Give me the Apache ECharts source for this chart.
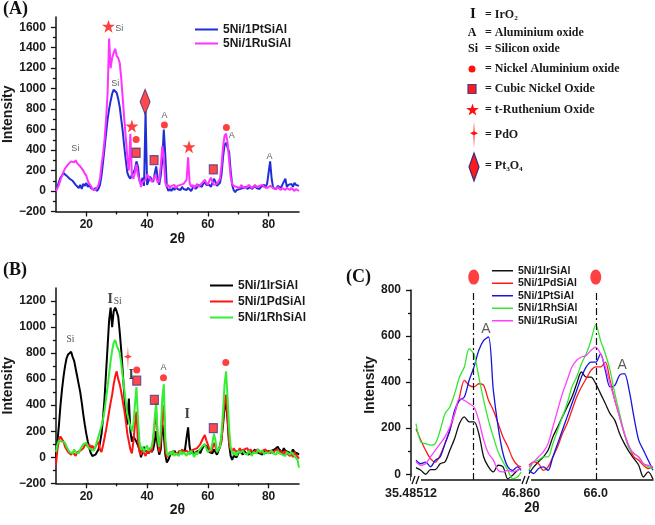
<!DOCTYPE html>
<html><head><meta charset="utf-8">
<script src="https://cdn.jsdelivr.net/npm/echarts@6/dist/echarts.min.js"></script>
<style>html,body{margin:0;padding:0;background:#fff}#c{width:655px;height:525px}</style>
</head><body><div id="c"></div>
<script>
// ---------- DATA ----------
const twoThetaAB = [10,10.5,11,11.5,12,12.5,13,13.5,14,14.5,15,15.5,16,16.5,17,17.5,18,18.5,19,19.5,
20,20.5,21,21.5,22,22.5,23,23.5,24,24.5,25,25.5,26,26.5,27,27.5,28,28.5,29,29.5,
30,30.5,31,31.5,32,32.5,33,33.5,34,34.5,35,35.5,36,36.5,37,37.5,38,38.5,39,39.5,
40,40.5,41,41.5,42,42.5,43,43.5,44,44.5,45,45.5,46,46.5,47,47.5,48,48.5,49,49.5,
50,50.5,51,51.5,52,52.5,53,53.5,54,54.5,55,55.5,56,56.5,57,57.5,58,58.5,59,59.5,
60,60.5,61,61.5,62,62.5,63,63.5,64,64.5,65,65.5,66,66.5,67,67.5,68,68.5,69,69.5,
70,70.5,71,71.5,72,72.5,73,73.5,74,74.5,75,75.5,76,76.5,77,77.5,78,78.5,79,79.5,
80,80.5,81,81.5,82,82.5,83,83.5,84,84.5,85,85.5,86,86.5,87,87.5,88,88.5,89,89.5,90];

// Panel A
const aPt = [0,40,90,130,150,175,165,150,160,120,130,100,90,60,50,30,60,20,70,50,
80,40,60,30,40,10,30,0,20,60,150,280,420,560,700,800,880,950,990,1000,
960,900,820,700,580,430,300,180,140,120,160,150,210,290,240,100,70,130,50,780,
60,100,140,110,90,170,240,120,60,150,300,600,350,40,0,20,0,30,10,40,
20,30,10,40,20,30,10,30,20,0,30,50,20,40,60,50,40,70,90,60,
50,60,40,80,120,90,50,60,80,160,330,450,470,460,380,200,60,10,-10,10,
0,20,10,30,20,40,20,30,40,20,30,50,30,40,20,40,30,60,40,70,
60,290,120,30,40,20,50,40,30,60,50,120,40,60,50,70,40,80,60,70,50];
const aRu = [0,30,60,110,150,190,220,230,260,270,290,300,280,300,270,280,240,230,200,170,
150,100,70,50,20,30,10,30,60,120,250,360,500,700,950,1490,1200,1300,1350,1390,
1320,1300,1250,1100,900,700,520,330,200,560,150,120,180,260,150,110,40,90,80,110,
160,140,120,90,110,150,130,80,100,250,440,320,80,40,60,30,50,40,60,30,
50,40,60,50,70,60,110,330,80,40,60,30,50,70,40,60,50,90,110,80,
60,100,130,90,60,50,70,80,120,250,430,540,560,470,300,140,70,50,60,40,
50,30,60,40,50,30,40,60,50,30,40,60,40,30,50,40,60,40,50,30,
40,50,40,30,40,20,40,30,10,30,20,10,30,20,10,30,20,0,20,10,0];

// Panel B
const bIr = [0,120,250,400,520,620,700,760,790,800,810,770,740,680,620,560,500,420,330,250,
180,120,70,30,10,0,20,10,60,110,180,300,450,650,850,1050,1150,1000,1120,1150,
1120,1080,960,820,650,480,330,250,450,200,120,160,170,120,130,60,0,40,80,50,
60,30,70,40,60,120,200,80,20,60,250,180,20,-40,-20,10,40,20,50,30,
40,20,50,30,40,60,150,230,80,30,50,20,40,30,50,30,60,80,100,90,
70,40,50,30,60,40,20,50,80,150,250,380,420,280,100,10,-20,10,20,0,
30,20,40,20,50,30,40,20,50,30,40,60,40,50,30,40,20,50,30,40,
50,30,50,40,60,70,80,60,50,40,70,50,60,40,50,30,60,40,50,30,20];
const bPd = [-60,60,130,160,150,120,80,60,40,50,20,40,30,10,40,30,50,40,70,90,
110,80,100,70,90,60,80,100,120,60,40,90,150,210,280,350,420,480,560,620,
660,600,560,500,430,360,280,180,120,60,30,120,250,350,120,40,20,60,30,10,
50,30,60,40,120,250,350,150,40,120,300,400,60,0,20,40,20,50,30,40,
20,50,30,60,40,30,50,40,30,50,40,60,50,70,80,100,110,150,170,130,
100,60,40,70,110,80,40,60,50,120,280,420,480,300,110,60,40,70,50,60,
40,70,50,40,60,50,70,40,60,50,30,50,40,60,50,30,50,40,60,40,
30,50,40,30,50,40,60,30,50,40,20,50,30,40,10,30,0,40,20,30,-10];
const bRh = [40,100,130,140,120,130,110,80,60,40,50,30,60,40,50,30,60,70,100,90,
110,80,90,60,70,50,80,120,160,200,240,290,360,450,540,640,740,820,880,900,
860,850,800,720,620,520,420,330,280,240,200,250,400,540,300,120,60,80,40,70,
90,50,60,80,150,300,420,150,80,200,450,560,150,30,10,40,20,50,10,30,
40,10,50,20,40,30,10,40,20,50,30,0,40,20,50,60,80,90,100,70,
40,30,60,110,180,130,40,30,80,180,350,560,660,450,220,80,40,20,40,10,
50,30,20,50,30,40,20,50,30,10,40,50,30,60,40,30,50,20,40,50,
30,20,50,30,40,20,50,30,40,20,30,10,40,30,20,40,30,10,20,-20,-80];

// Panel C (broken x axis: two windows)
const cLeftX = [36,36.5,37,37.5,38,38.5,39,39.5,40,40.5,41,41.5,42,42.5,43,43.5,44,44.5,45,45.5,46,46.5,46.86];
const cIrL = [29,17,0,20,20,46,54,104,155,220,249,227,227,176,75,32,10,39,32,-20,-4,17,25];
const cPdL = [198,148,104,68,53,82,133,191,263,335,408,386,379,393,386,321,278,220,162,119,68,39,32];
const cPtL = [61,46,53,32,61,75,133,191,278,321,335,408,466,538,581,596,364,205,90,32,17,32,17];
const cRhL = [220,140,133,126,133,191,263,292,350,422,466,545,520,422,321,234,162,97,54,17,-19,-12,10];
const cRuL = [54,39,46,75,104,133,162,205,263,328,321,307,292,234,148,90,61,17,10,17,10,17,25];
const cRightX = [59,59.5,60,60.5,61,61.5,62,62.5,63,63.5,64,64.5,65,65.5,66,66.5,67,67.5,68,68.5,69,69.5,70,70.5,71,71.5,72];
const cIrR = [3,32,54,75,104,162,205,249,292,335,393,444,422,422,393,350,307,263,234,176,133,97,68,39,-12,10,-22];
const cPdR = [39,54,46,17,32,75,119,176,220,278,335,379,415,451,466,466,487,408,321,249,176,119,75,61,39,25,32];
const cPtR = [17,3,25,32,17,75,133,191,249,307,364,422,466,487,487,523,451,379,386,430,437,364,249,148,104,61,17];
const cRhR = [17,54,61,75,75,133,191,249,307,379,422,480,523,581,650,581,523,451,350,263,176,111,90,75,46,32,25];
const cRuR = [32,54,75,97,133,205,278,350,408,466,495,509,516,538,552,523,466,393,321,249,176,119,90,75,46,39,32];

// Tick values / labels
const abXTicks = [20,40,60,80];
const abXMinor = [30,50,70];
const aYTicks = [-200,0,200,400,600,800,1000,1200,1400,1600];
const aYMinor = [-100,100,300,500,700,900,1100,1300,1500];
const bYTicks = [-200,0,200,400,600,800,1000,1200];
const bYMinor = [-100,100,300,500,700,900,1100];
const cYTicks = [0,200,400,600,800];
const cYMinor = [100,300,500,700];
const cLeftTicks = [35.48512,46.86];
const cLeftTickLabels = ['35.48512','46.860'];
const cRightTicks = [66];
const cRightTickLabels = ['66.0'];
const cPeakPositions = [41.97, 66.0];

// Phase annotations [2θ, intensity]
const aStars = [[27.3,1610],[35.0,634],[53.8,432]];
const aDots = [[36.4,504],[45.7,644],[66.1,621]];
const aCubes = [[36.4,374],[42.3,302],[61.8,212]];
const aDiamonds = [[39.35,871]];
const aTexts = [[30.8,1585,'Si'],[29.5,1055,'Si'],[16.4,416,'Si'],[45.7,735,'A'],[67.9,546,'A'],[80.3,341,'A']];
const bSiTexts = [[14.75,901,'Si'],[30.3,1195,'Si']];
const bATexts = [[45.4,690,'A']];
const bIrMarks = [[27.9,1210],[34.75,632],[53.2,330]];
const bPdO = [[33.7,760]];
const bDots = [[36.6,670],[45.4,611],[65.9,727]];
const bCubes = [[36.6,588],[42.4,440],[61.8,223]];
const cDotsL = [[41.97,856]];
const cDotsR = [[66.0,856]];
const cATextsL = [[43.24,628,'A']];
const cATextsR = [[68.78,475,'A']];

// ---------- CHART ----------
const SANS = 'Liberation Sans', SERIF = 'Liberation Serif';
const STAR_PTS = [[50,0],[61.8,35.3],[98.8,35.3],[68.8,57.1],[80.3,92.7],[50,70.9],[19.7,92.7],[31.2,57.1],[1.2,35.3],[38.2,35.3]];
const PDO_PTS = [[5,0],[5.7,11],[10,13],[5.7,15],[5,30],[4.3,15],[0,13],[4.3,11]];
const toPath = (pts) => 'path://M' + pts.map(p => p.join(',')).join('L') + 'Z';
const STAR = toPath(STAR_PTS);
const PDO = toPath(PDO_PTS);
const pairs = (xs, ys) => xs.map((x, i) => [x, ys[i]]);
const minus = v => String(v).replace('-', '\u2212');
const chart = echarts.init(document.getElementById('c'));
const C_MIN = -25;

const lab = {fontFamily: SANS, fontWeight: 'bold', fontSize: 12, color: '#1a1a1a'};
const axLine = {show: true, onZero: false, lineStyle: {color: '#111', width: 1.5}};
const tickStyle = {color: '#111', width: 1.3};
const nameStyle = {fontFamily: SANS, fontWeight: 'bold', fontSize: 14, color: '#1a1a1a'};

function majorX(grid, min, max, ticks, extra) {
  return Object.assign({gridIndex: grid, type: 'value', min, max, position: 'bottom',
    axisLine: axLine, splitLine: {show: false},
    axisTick: {show: true, customValues: ticks, length: 5, lineStyle: tickStyle},
    axisLabel: Object.assign({customValues: ticks, margin: 7}, lab)}, extra || {});
}
function minorX(grid, min, max, ticks) {
  return {gridIndex: grid, type: 'value', min, max, position: 'bottom',
    axisLine: {show: false, onZero: false}, splitLine: {show: false},
    axisTick: {show: true, customValues: ticks, length: 3, lineStyle: tickStyle},
    axisLabel: {show: false}};
}
function majorY(grid, min, max, ticks, extra) {
  return Object.assign({gridIndex: grid, type: 'value', min, max, position: 'left',
    axisLine: axLine, splitLine: {show: false},
    axisTick: {show: true, customValues: ticks, length: 5, lineStyle: tickStyle},
    axisLabel: Object.assign({customValues: ticks, margin: 10, formatter: minus}, lab)}, extra || {});
}
function minorY(grid, min, max, ticks) {
  return {gridIndex: grid, type: 'value', min, max, position: 'left',
    axisLine: {show: false, onZero: false}, splitLine: {show: false},
    axisTick: {show: true, customValues: ticks, length: 3, lineStyle: tickStyle},
    axisLabel: {show: false}};
}

function lineS(name, xi, yi, xs, ys, color, w) {
  return {type: 'line', name, xAxisIndex: xi, yAxisIndex: yi, data: pairs(xs, ys),
    symbol: 'none', showSymbol: false, lineStyle: {color, width: w}, itemStyle: {color},
    smooth: w < 2 ? 0.3 : false, z: 2};
}
function markS(xi, yi, data, symbol, size, color, border, extra) {
  return Object.assign({type: 'scatter', xAxisIndex: xi, yAxisIndex: yi, data, symbol, symbolSize: size,
    itemStyle: {color, borderColor: border || color, borderWidth: border ? 1.2 : 0},
    silent: true, clip: false, z: 5}, extra || {});
}
function textS(xi, yi, data, font, size, color, weight) {
  return {type: 'scatter', xAxisIndex: xi, yAxisIndex: yi, data, symbol: 'circle', symbolSize: 1,
    itemStyle: {color: 'rgba(0,0,0,0)'}, silent: true, clip: false, z: 6,
    label: {show: true, position: 'inside', formatter: p => p.data[2],
      fontFamily: font, fontSize: size, color, fontWeight: weight || 'normal'}};
}
const legendFmt = n => n.split(':')[1];
const titleStyle = {fontFamily: SERIF, fontWeight: 'bold', fontSize: 18, color: '#111'};

const option = {
  animation: false,
  backgroundColor: '#fff',
  title: [
    {text: '(A)', left: 3, top: 0, padding: 0, textStyle: titleStyle},
    {text: '(B)', left: 3, top: 261, padding: 0, textStyle: titleStyle},
    {text: '(C)', left: 346, top: 268, padding: 0, textStyle: titleStyle}
  ],
  legend: [
    {data: ['A:5Ni/1PtSiAl', 'A:5Ni/1RuSiAl'], formatter: legendFmt, orient: 'vertical', left: 195, top: 23,
      padding: 0, icon: 'rect', itemWidth: 23, itemHeight: 2, itemGap: 1, selectedMode: false,
      textStyle: {fontFamily: SANS, fontWeight: 'bold', fontSize: 12, color: '#1a1a1a', lineHeight: 13}},
    {data: ['B:5Ni/1IrSiAl', 'B:5Ni/1PdSiAl', 'B:5Ni/1RhSiAl'], formatter: legendFmt, orient: 'vertical', left: 210, top: 279,
      padding: 0, icon: 'rect', itemWidth: 23, itemHeight: 2, itemGap: 3, selectedMode: false,
      textStyle: {fontFamily: SANS, fontWeight: 'bold', fontSize: 12, color: '#1a1a1a', lineHeight: 13}},
    {data: ['C:5Ni/1IrSiAl', 'C:5Ni/1PdSiAl', 'C:5Ni/1PtSiAl', 'C:5Ni/1RhSiAl', 'C:5Ni/1RuSiAl'], formatter: legendFmt,
      orient: 'vertical', left: 492, top: 265, padding: 0, icon: 'rect', itemWidth: 21, itemHeight: 1.5, itemGap: 1, selectedMode: false,
      textStyle: {fontFamily: SANS, fontWeight: 'bold', fontSize: 10.5, color: '#1a1a1a', lineHeight: 11.5}}
  ],
  grid: [
    {left: 54, top: 17, width: 245, height: 194.5},
    {left: 54, top: 288, width: 245, height: 195.3},
    {left: 411, top: 290, width: 110, height: 190},
    {left: 529, top: 290, width: 124, height: 190}
  ],
  xAxis: [
    majorX(0, 10, 90, abXTicks, {name: '2\u03b8', nameLocation: 'middle', nameGap: 21, nameTextStyle: nameStyle}),
    minorX(0, 10, 90, abXMinor),
    majorX(1, 10, 90, abXTicks, {name: '2\u03b8', nameLocation: 'middle', nameGap: 19, nameTextStyle: nameStyle}),
    minorX(1, 10, 90, abXMinor),
    {gridIndex: 2, type: 'value', min: 35.48512, max: 46.86, position: 'bottom', axisLine: axLine, splitLine: {show: false},
      axisTick: {show: false},
      axisLabel: Object.assign({}, lab, {customValues: cLeftTicks, margin: 7, fontSize: 12.5,
        formatter: v => cLeftTickLabels[cLeftTicks.indexOf(v)] || ''})},
    {gridIndex: 3, type: 'value', min: 59, max: 72, position: 'bottom', axisLine: axLine, splitLine: {show: false},
      axisTick: {show: false},
      axisLabel: Object.assign({}, lab, {customValues: cRightTicks, margin: 7, fontSize: 12.5,
        formatter: v => cRightTickLabels[cRightTicks.indexOf(v)] || ''})}
  ],
  yAxis: [
    majorY(0, -200, 1700, aYTicks, {name: 'Intensity', nameLocation: 'middle', nameGap: 37, nameTextStyle: nameStyle}),
    minorY(0, -200, 1700, aYMinor),
    majorY(1, -200, 1300, bYTicks, {name: 'Intensity', nameLocation: 'middle', nameGap: 37, nameTextStyle: nameStyle}),
    minorY(1, -200, 1300, bYMinor),
    majorY(2, C_MIN, 800, cYTicks, {name: 'Intensity', nameLocation: 'middle', nameGap: 30, nameTextStyle: nameStyle}),
    minorY(2, C_MIN, 800, cYMinor),
    {gridIndex: 3, type: 'value', min: C_MIN, max: 800, show: false}
  ],
  series: [
    // A
    lineS('A:5Ni/1PtSiAl', 0, 0, twoThetaAB, aPt, '#1f2ed8', 2),
    lineS('A:5Ni/1RuSiAl', 0, 0, twoThetaAB, aRu, '#ff33ff', 2),
    markS(0, 0, aStars, STAR, 13, '#ff1010'),
    markS(0, 0, aDots, 'circle', 7, '#ff1010'),
    markS(0, 0, aCubes, 'rect', [8, 9], '#ff1a1a', '#4b3a8c'),
    markS(0, 0, aDiamonds, 'diamond', [10, 25], '#ff1a1a', '#3a2d80'),
    textS(0, 0, aTexts, SANS, 9, '#333'),
    // B
    lineS('B:5Ni/1IrSiAl', 2, 2, twoThetaAB, bIr, '#000000', 2),
    lineS('B:5Ni/1PdSiAl', 2, 2, twoThetaAB, bPd, '#ff1414', 2),
    lineS('B:5Ni/1RhSiAl', 2, 2, twoThetaAB, bRh, '#33ee33', 2),
    markS(2, 2, bPdO, PDO, [8, 24], '#ff1010'),
    markS(2, 2, bDots, 'circle', 7, '#ff1010'),
    markS(2, 2, bCubes, 'rect', [8, 9], '#ff1a1a', '#4b3a8c'),
    textS(2, 2, bIrMarks.map(p => [p[0], p[1], 'I']), SERIF, 14, '#111', 'bold'),
    textS(2, 2, bSiTexts, SERIF, 9.5, '#222'),
    textS(2, 2, bATexts, SANS, 9, '#333'),
    // C left
    lineS('C:5Ni/1IrSiAl', 4, 4, cLeftX, cIrL, '#111111', 1.3),
    lineS('C:5Ni/1PdSiAl', 4, 4, cLeftX, cPdL, '#ff1a1a', 1.3),
    lineS('C:5Ni/1PtSiAl', 4, 4, cLeftX, cPtL, '#1515e0', 1.3),
    lineS('C:5Ni/1RhSiAl', 4, 4, cLeftX, cRhL, '#33e633', 1.3),
    lineS('C:5Ni/1RuSiAl', 4, 4, cLeftX, cRuL, '#ff40ff', 1.3),
    // C right
    lineS('C:5Ni/1IrSiAl', 5, 6, cRightX, cIrR, '#111111', 1.3),
    lineS('C:5Ni/1PdSiAl', 5, 6, cRightX, cPdR, '#ff1a1a', 1.3),
    lineS('C:5Ni/1PtSiAl', 5, 6, cRightX, cPtR, '#1515e0', 1.3),
    lineS('C:5Ni/1RhSiAl', 5, 6, cRightX, cRhR, '#33e633', 1.3),
    lineS('C:5Ni/1RuSiAl', 5, 6, cRightX, cRuR, '#ff40ff', 1.3),
    markS(4, 4, cDotsL, 'circle', [11, 15], '#ff1010', null, {markLine: {silent: true, symbol: ['none', 'none'],
      label: {show: false}, lineStyle: {color: '#111', type: [7, 3, 2, 3], width: 1.2}, data: [{xAxis: cPeakPositions[0]}]}}),
    markS(5, 6, cDotsR, 'circle', [11, 15], '#ff1010', null, {markLine: {silent: true, symbol: ['none', 'none'],
      label: {show: false}, lineStyle: {color: '#111', type: [7, 3, 2, 3], width: 1.2}, data: [{xAxis: cPeakPositions[1]}]}}),
    textS(4, 4, cATextsL, SANS, 14, '#333'),
    textS(5, 6, cATextsR, SANS, 14, '#333')
  ]
};
chart.setOption(option);

// ---------- decorations: phase key, axis-break marks, C axis title ----------
const keyX = 473, keyTextX = 485;
const keyFont = 'bold 12px "Liberation Serif"';
const keyRows = [
  {y: 15, text: '= IrO\u2082'}, {y: 33, text: '= Aluminium oxide'}, {y: 49, text: '= Silicon oxide'},
  {y: 69, text: '= Nickel Aluminium oxide'}, {y: 89, text: '= Cubic Nickel Oxide'},
  {y: 110, text: '= t-Ruthenium Oxide'}, {y: 135, text: '= PdO'}, {y: 166, text: '= Pt\u2083O\u2084'}
];
const place = (pts, x0, y0, sx, sy) => pts.map(p => [x0 + p[0] * sx, y0 + p[1] * sy]);
const g = [];
keyRows.forEach(r => g.push({type: 'text', style: {text: r.text, x: keyTextX, y: r.y, font: keyFont, fill: '#1a1a1a', verticalAlign: 'middle', align: 'left'}}));
g.push({type: 'text', style: {text: 'I', x: keyX, y: 14, font: 'bold 15px "Liberation Serif"', fill: '#111', align: 'center', verticalAlign: 'middle'}});
g.push({type: 'text', style: {text: 'A', x: keyX - 1, y: 33, font: keyFont, fill: '#111', align: 'center', verticalAlign: 'middle'}});
g.push({type: 'text', style: {text: 'Si', x: keyX, y: 49, font: keyFont, fill: '#111', align: 'center', verticalAlign: 'middle'}});
g.push({type: 'circle', shape: {cx: keyX - 1, cy: 69, r: 3.5}, style: {fill: '#ff1010'}});
g.push({type: 'rect', shape: {x: keyX - 5, y: 84.5, width: 8, height: 9}, style: {fill: '#ff1a1a', stroke: '#4b3a8c', lineWidth: 1.2}});
g.push({type: 'polygon', shape: {points: place(STAR_PTS, keyX - 7, 103.5, 0.13, 0.13)}, style: {fill: '#ff1010'}});
g.push({type: 'polygon', shape: {points: place(PDO_PTS, keyX - 3, 121.5, 0.8, 0.9)}, style: {fill: '#ff1010'}});
g.push({type: 'polygon', shape: {points: [[keyX + 1, 153], [keyX + 6, 167], [keyX + 1, 181], [keyX - 4, 167]]}, style: {fill: '#ff1a1a', stroke: '#3a2d80', lineWidth: 1.2}});

const p0 = chart.convertToPixel({gridIndex: 2}, [35.48512, C_MIN]);
const p1 = chart.convertToPixel({gridIndex: 2}, [46.86, C_MIN]);
function brk(x, y) {
  g.push({type: 'rect', shape: {x: x - 1, y: y - 3, width: 10, height: 6}, style: {fill: '#fff'}, z: 100});
  g.push({type: 'line', shape: {x1: x, y1: y + 4, x2: x + 3, y2: y - 4}, style: {stroke: '#111', lineWidth: 1.3}, z: 101});
  g.push({type: 'line', shape: {x1: x + 4, y1: y + 4, x2: x + 7, y2: y - 4}, style: {stroke: '#111', lineWidth: 1.3}, z: 101});
}
brk(p0[0] + 1, p0[1]);
brk(p1[0] + 1, p1[1]);
g.push({type: 'text', style: {text: '2\u03b8', x: 532, y: p0[1] + 28, font: 'bold 14px "Liberation Sans"', fill: '#1a1a1a', align: 'center', verticalAlign: 'middle'}});
chart.setOption({graphic: {elements: g}});
</script>
</body></html>
